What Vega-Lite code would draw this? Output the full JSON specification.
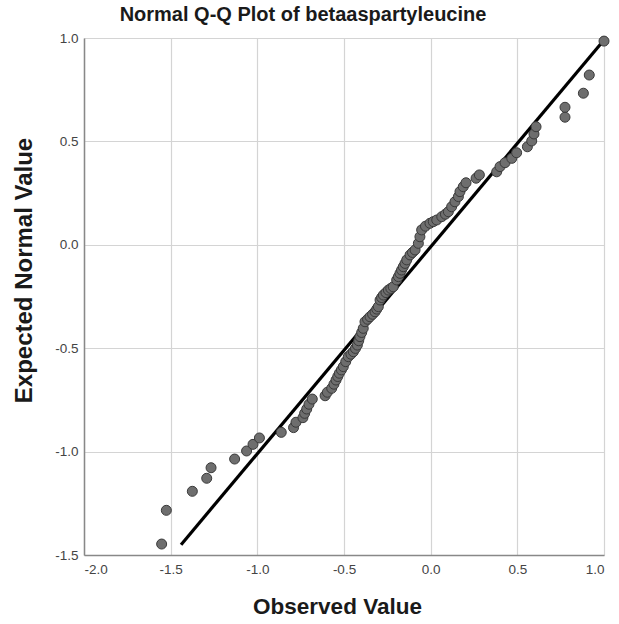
{
  "$schema": "https://vega.github.io/schema/vega-lite/v6.json",
  "width": 520,
  "height": 517,
  "autosize": {"type": "none"},
  "padding": {"left": 84, "top": 38, "right": 15, "bottom": 69},
  "background": "white",
  "title": {
    "text": "Normal Q-Q Plot of betaaspartyleucine",
    "font": "Liberation Sans",
    "fontSize": 20,
    "fontWeight": "bold",
    "color": "#1a1a1a",
    "anchor": "middle",
    "dx": -41,
    "offset": 6
  },
  "config": {
    "view": {"stroke": null},
    "font": "Liberation Sans"
  },
  "datasets": {
    "points": [
      {"observed": -1.552, "expected": -1.447},
      {"observed": -1.525, "expected": -1.284},
      {"observed": -1.375, "expected": -1.192},
      {"observed": -1.292, "expected": -1.129},
      {"observed": -1.267, "expected": -1.078},
      {"observed": -1.131, "expected": -1.036},
      {"observed": -1.062, "expected": -0.997},
      {"observed": -1.025, "expected": -0.965},
      {"observed": -0.988, "expected": -0.934},
      {"observed": -0.862, "expected": -0.907},
      {"observed": -0.791, "expected": -0.884},
      {"observed": -0.777, "expected": -0.858},
      {"observed": -0.737, "expected": -0.836},
      {"observed": -0.727, "expected": -0.815},
      {"observed": -0.715, "expected": -0.794},
      {"observed": -0.702, "expected": -0.771},
      {"observed": -0.683, "expected": -0.746},
      {"observed": -0.609, "expected": -0.730},
      {"observed": -0.596, "expected": -0.713},
      {"observed": -0.571, "expected": -0.694},
      {"observed": -0.558, "expected": -0.674},
      {"observed": -0.546, "expected": -0.654},
      {"observed": -0.536, "expected": -0.637},
      {"observed": -0.527, "expected": -0.621},
      {"observed": -0.515, "expected": -0.605},
      {"observed": -0.504, "expected": -0.589},
      {"observed": -0.490, "expected": -0.565},
      {"observed": -0.475, "expected": -0.541},
      {"observed": -0.460, "expected": -0.529},
      {"observed": -0.446, "expected": -0.517},
      {"observed": -0.434, "expected": -0.501},
      {"observed": -0.423, "expected": -0.485},
      {"observed": -0.415, "expected": -0.464},
      {"observed": -0.408, "expected": -0.444},
      {"observed": -0.398, "expected": -0.424},
      {"observed": -0.389, "expected": -0.404},
      {"observed": -0.379, "expected": -0.372},
      {"observed": -0.364, "expected": -0.360},
      {"observed": -0.350, "expected": -0.348},
      {"observed": -0.335, "expected": -0.336},
      {"observed": -0.321, "expected": -0.324},
      {"observed": -0.311, "expected": -0.311},
      {"observed": -0.302, "expected": -0.299},
      {"observed": -0.292, "expected": -0.267},
      {"observed": -0.283, "expected": -0.255},
      {"observed": -0.273, "expected": -0.243},
      {"observed": -0.258, "expected": -0.231},
      {"observed": -0.244, "expected": -0.219},
      {"observed": -0.230, "expected": -0.211},
      {"observed": -0.216, "expected": -0.203},
      {"observed": -0.196, "expected": -0.170},
      {"observed": -0.186, "expected": -0.154},
      {"observed": -0.177, "expected": -0.138},
      {"observed": -0.168, "expected": -0.122},
      {"observed": -0.158, "expected": -0.106},
      {"observed": -0.148, "expected": -0.090},
      {"observed": -0.138, "expected": -0.073},
      {"observed": -0.119, "expected": -0.049},
      {"observed": -0.105, "expected": -0.037},
      {"observed": -0.090, "expected": -0.025},
      {"observed": -0.071, "expected": 0.007},
      {"observed": -0.062, "expected": 0.039},
      {"observed": -0.052, "expected": 0.072},
      {"observed": -0.030, "expected": 0.090},
      {"observed": -0.004, "expected": 0.104},
      {"observed": 0.015, "expected": 0.112},
      {"observed": 0.035, "expected": 0.120},
      {"observed": 0.064, "expected": 0.136},
      {"observed": 0.085, "expected": 0.148},
      {"observed": 0.102, "expected": 0.160},
      {"observed": 0.121, "expected": 0.184},
      {"observed": 0.140, "expected": 0.208},
      {"observed": 0.160, "expected": 0.233},
      {"observed": 0.169, "expected": 0.257},
      {"observed": 0.188, "expected": 0.281},
      {"observed": 0.204, "expected": 0.300},
      {"observed": 0.262, "expected": 0.322},
      {"observed": 0.281, "expected": 0.338},
      {"observed": 0.381, "expected": 0.353},
      {"observed": 0.400, "expected": 0.378},
      {"observed": 0.429, "expected": 0.397},
      {"observed": 0.468, "expected": 0.418},
      {"observed": 0.496, "expected": 0.445},
      {"observed": 0.558, "expected": 0.474},
      {"observed": 0.583, "expected": 0.502},
      {"observed": 0.596, "expected": 0.536},
      {"observed": 0.608, "expected": 0.571},
      {"observed": 0.775, "expected": 0.617},
      {"observed": 0.775, "expected": 0.665},
      {"observed": 0.881, "expected": 0.733},
      {"observed": 0.915, "expected": 0.821},
      {"observed": 1.0, "expected": 0.985}
    ],
    "refline": [
      {"observed": -1.44, "expected": -1.45},
      {"observed": 1.0, "expected": 0.99}
    ]
  },
  "encoding": {
    "x": {
      "field": "observed",
      "type": "quantitative",
      "scale": {"domain": [-2, 1], "nice": false, "zero": false},
      "axis": {
        "title": "Observed Value",
        "values": [-2, -1.5, -1, -0.5, 0, 0.5, 1],
        "labelExpr": "replace(format(datum.value, '.1f'), '−', '-')",
        "labelFont": "Liberation Sans",
        "labelFontSize": 13.5,
        "labelColor": "#444444",
        "labelPadding": 7,
        "ticks": false,
        "domainColor": "#888888",
        "domainWidth": 1.5,
        "grid": true,
        "gridColor": "#d4d4d4",
        "gridWidth": 1.2,
        "titleFont": "Liberation Sans",
        "titleFontSize": 22.5,
        "titleFontWeight": "bold",
        "titleColor": "#1a1a1a",
        "titlePadding": 20,
        "titleX": 253
      }
    },
    "y": {
      "field": "expected",
      "type": "quantitative",
      "scale": {"domain": [-1.5, 1], "nice": false, "zero": false},
      "axis": {
        "title": "Expected Normal Value",
        "values": [-1.5, -1, -0.5, 0, 0.5, 1],
        "labelExpr": "replace(format(datum.value, '.1f'), '−', '-')",
        "labelFont": "Liberation Sans",
        "labelFontSize": 13.5,
        "labelColor": "#444444",
        "labelPadding": 6,
        "ticks": false,
        "domainColor": "#888888",
        "domainWidth": 1.5,
        "grid": true,
        "gridColor": "#d4d4d4",
        "gridWidth": 1.2,
        "titleFont": "Liberation Sans",
        "titleFontSize": 24,
        "titleFontWeight": "bold",
        "titleColor": "#1a1a1a",
        "titlePadding": 18,
        "titleY": 232
      }
    }
  },
  "layer": [
    {
      "data": {"name": "refline"},
      "mark": {"type": "line", "color": "#000000", "strokeWidth": 3.2}
    },
    {
      "data": {"name": "points"},
      "mark": {
        "type": "point",
        "shape": "circle",
        "filled": true,
        "size": 100,
        "fill": "#6e6e6e",
        "stroke": "#3a3a3a",
        "strokeWidth": 1,
        "opacity": 1
      }
    }
  ]
}
